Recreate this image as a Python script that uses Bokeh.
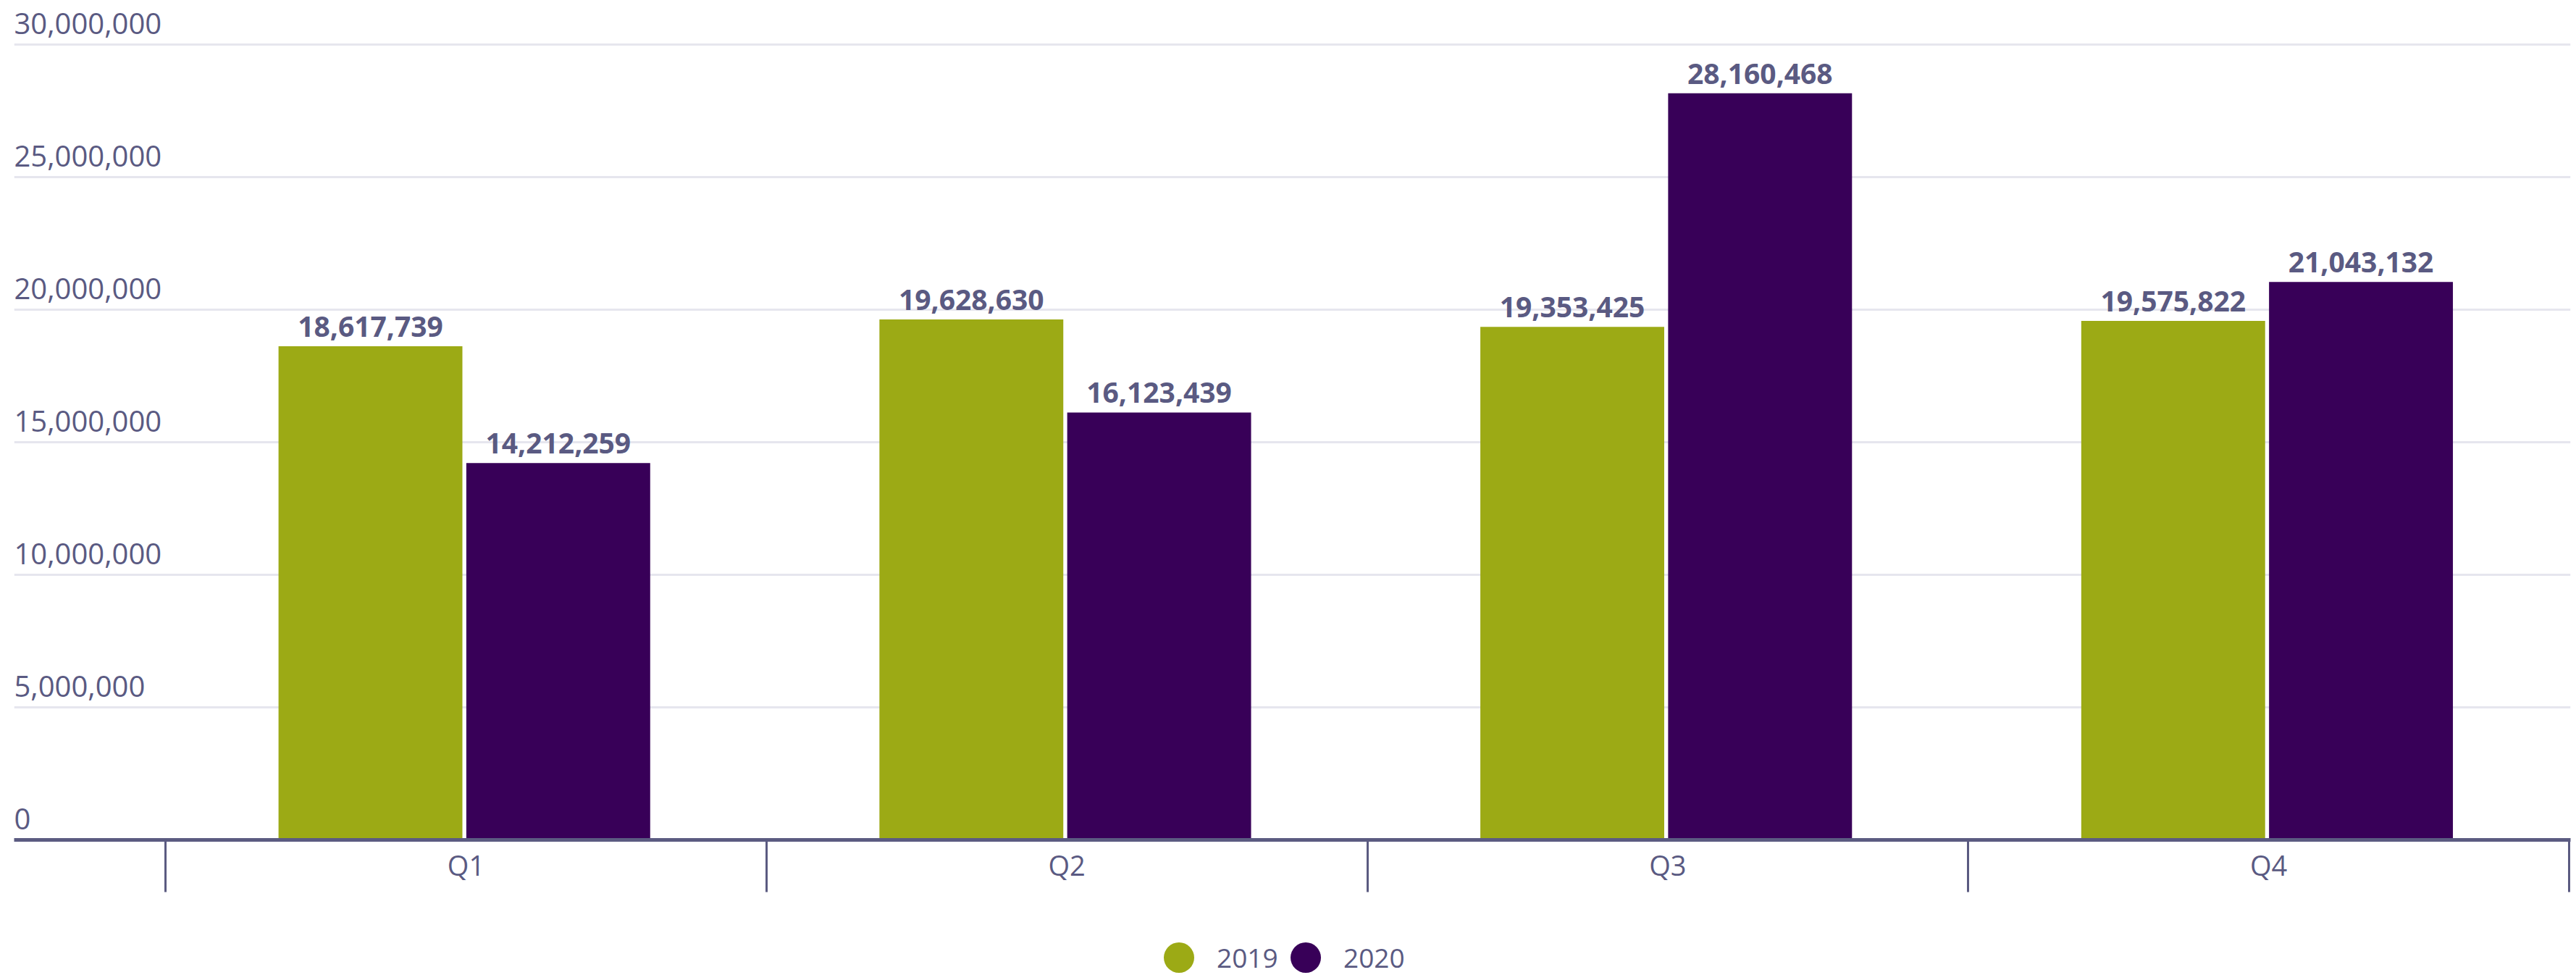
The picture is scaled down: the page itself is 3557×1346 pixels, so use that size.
from bokeh.plotting import figure
from bokeh.layouts import column
from bokeh.models import Range1d, FixedTicker, Legend, LegendItem, ColumnDataSource
from bokeh.core.properties import value
from bokeh.embed import file_html
from bokeh.resources import INLINE

# ---- data ----
quarters = ["Q1", "Q2", "Q3", "Q4"]
series_names = ["2019", "2020"]
values_2019 = [18617739, 19628630, 19353425, 19575822]
values_2020 = [14212259, 16123439, 28160468, 21043132]
y_ticks = [0, 5000000, 10000000, 15000000, 20000000, 25000000, 30000000]

# ---- style ----
GREEN = "#9caa15"
PURPLE = "#380058"
TEXT = "#5a5a82"
AXIS = "#5b5b81"
GRID = "#e6e6ee"
FONT = "Open Sans"

n = len(quarters)
centers = [i + 0.5 for i in range(n)]
bounds = [float(i) for i in range(n + 1)]
OFF_A, OFF_B, BAR_W = -0.159, 0.1535, 0.306
X_START, X_END = -0.252, 4.0023

p = figure(width=3557, height=1240,
           x_range=Range1d(X_START, X_END), y_range=Range1d(0, 31448000),
           output_backend="svg", toolbar_location=None,
           min_border_left=19, min_border_right=8, min_border_top=8, min_border_bottom=81)
p.outline_line_color = None
p.background_fill_color = "white"
p.border_fill_color = "white"

# grid
p.xgrid.visible = False
p.yaxis.visible = False
p.ygrid.ticker = FixedTicker(ticks=y_ticks)
p.ygrid.grid_line_color = GRID
p.ygrid.grid_line_width = 3

# bars
src_a = ColumnDataSource(dict(x=[c + OFF_A for c in centers], top=values_2019,
                              t=[f"{v:,}" for v in values_2019]))
src_b = ColumnDataSource(dict(x=[c + OFF_B for c in centers], top=values_2020,
                              t=[f"{v:,}" for v in values_2020]))
p.vbar(x="x", top="top", width=BAR_W, source=src_a, fill_color=GREEN, line_color=None)
p.vbar(x="x", top="top", width=BAR_W, source=src_b, fill_color=PURPLE, line_color=None)

# data labels
for src in (src_a, src_b):
    p.text(x="x", y="top", text="t", source=src, text_font=value(FONT), text_font_style="bold",
           text_font_size="39px", text_color=TEXT, text_align="center",
           text_baseline="alphabetic", y_offset=-27)

# y tick labels (inside plot, above grid lines)
ysrc = ColumnDataSource(dict(x=[X_START] * len(y_ticks), y=y_ticks, t=[f"{v:,}" for v in y_ticks]))
p.text(x="x", y="y", text="t", source=ysrc, text_font=value(FONT), text_font_size="40px",
       text_color=TEXT, text_align="left", text_baseline="alphabetic", y_offset=-29, x_offset=0)

# x axis
ax = p.xaxis[0]
ax.ticker = FixedTicker(ticks=centers, minor_ticks=bounds)
ax.major_label_overrides = {c: q for c, q in zip(centers, quarters)}
ax.major_tick_out = 0
ax.major_tick_in = 0
ax.minor_tick_out = 72
ax.minor_tick_in = 0
ax.minor_tick_line_width = 3
ax.minor_tick_line_color = AXIS
ax.axis_line_width = 5
ax.axis_line_color = AXIS
ax.major_label_text_font = FONT
ax.major_label_text_font_size = "38px"
ax.major_label_text_color = TEXT
ax.major_label_standoff = -64

# legend strip below the chart
lf = figure(width=3557, height=106, x_range=Range1d(0, 3557), y_range=Range1d(0, 106),
            x_axis_type=None, y_axis_type=None, output_backend="svg", toolbar_location=None,
            min_border=0)
lf.outline_line_color = None
lf.xgrid.visible = False
lf.ygrid.visible = False
nan = float("nan")
r_a = lf.scatter(x=[nan], y=[nan], marker="circle", size=42, fill_color=GREEN, line_color=None)
r_b = lf.scatter(x=[nan], y=[nan], marker="circle", size=42, fill_color=PURPLE, line_color=None)
for r, name, loc in ((r_a, series_names[0], (1556, -28)), (r_b, series_names[1], (1731, -28))):
    leg = Legend(items=[LegendItem(label=name, renderers=[r])], location=loc,
                 glyph_width=105, glyph_height=105, label_standoff=-8, padding=0, margin=0,
                 border_line_color=None, background_fill_alpha=0,
                 label_text_font=FONT, label_text_font_size="37px", label_text_color=TEXT)
    lf.add_layout(leg)

layout = column(p, lf, spacing=0)
open("out.html", "w").write(file_html(layout, INLINE))
